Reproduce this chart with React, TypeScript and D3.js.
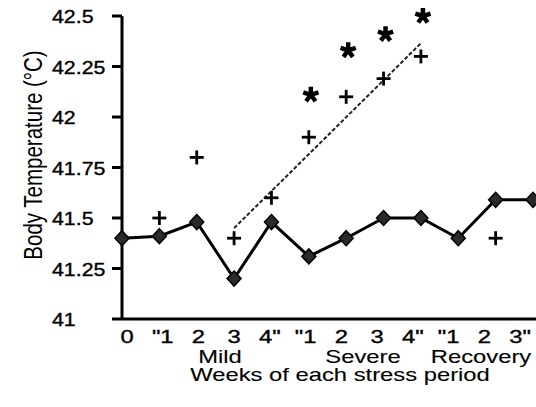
import React from "react";
import * as d3 from "d3";

const weekLabels = ["0", "\"1", "2", "3", "4\"", "\"1", "2", "3", "4\"", "\"1", "2", "3\""];
const meanTemp = [41.4, 41.41, 41.48, 41.2, 41.48, 41.31, 41.4, 41.5, 41.5, 41.4, 41.59, 41.59];
const plusWeeks = [1, 2, 3, 4, 5, 6, 7, 8, 10];
const plusTemp = [41.5, 41.8, 41.4, 41.6, 41.9, 42.1, 42.19, 42.3, 41.4];
const starWeeks = [5, 6, 7, 8];
const starTemp = [42.11, 42.33, 42.41, 42.5];
const trendWeeks = [3, 8];
const trendTemp = [41.45, 42.365];
const yTicks = [41, 41.25, 41.5, 41.75, 42, 42.25, 42.5];
const periods = ["Mild", "Severe", "Recovery"];
const periodCenters = [220, 363, 481];

const font = "'Liberation Sans', Arial, sans-serif";

const App = () => {
  const width = 536;
  const height = 407;
  const left = 122;
  const top = 16;
  const bottom = 319;

  const x = d3.scaleLinear().domain([0, 11]).range([left, 533]);
  const xLabel = d3.scaleLinear().domain([0, 11]).range([127, 520]);
  const y = d3.scaleLinear().domain([41, 42.5]).range([bottom, top]);

  const line = d3
    .line<number>()
    .x((d, i) => x(i))
    .y((d) => y(d));

  const trend = d3
    .line<number>()
    .x((d, i) => x(trendWeeks[i]))
    .y((d) => y(d));

  const diamond = "M0,-7.5L7,0L0,7.5L-7,0Z";
  const star = (cx: number, cy: number) => {
    const r = 8;
    return d3
      .range(5)
      .map((k) => {
        const a = (-90 + k * 72) * (Math.PI / 180);
        return `M${cx},${cy}L${cx + r * Math.cos(a)},${cy + r * Math.sin(a)}`;
      })
      .join("");
  };

  // the source picture is stretched sideways, so its text is too
  const label = (
    key: string | number,
    tx: number,
    ty: number,
    txt: string,
    anchor: string,
    sx: number,
    weight: number,
    dy?: string
  ) => (
    <text
      key={key}
      transform={`translate(${tx},${ty}) scale(${sx},1)`}
      dy={dy}
      textAnchor={anchor}
      fontSize={17.5}
      stroke="#000"
      strokeWidth={weight}
    >
      {txt}
    </text>
  );

  return (
    <svg
      width={width}
      height={height}
      style={{ position: "absolute", left: 0, top: 0, background: "#fff" }}
      fontFamily={font}
    >
      {/* axes */}
      <line x1={left} x2={left} y1={top} y2={bottom} stroke="#000" strokeWidth={3} />
      <line x1={left} x2={width} y1={bottom} y2={bottom} stroke="#000" strokeWidth={3} />
      {yTicks.map((t) => (
        <g key={t}>
          <line x1={left - 10} x2={left} y1={y(t)} y2={y(t)} stroke="#000" strokeWidth={3} />
          {label(t, 52, y(t) + 1, String(t), "start", 1.22, 0.35, "0.37em")}
        </g>
      ))}
      {weekLabels.map((l, i) => label(i, xLabel(i), 343, l, "middle", 1.36, 0.35))}
      {periods.map((p, i) => label(p, periodCenters[i], 363, p, "middle", 1.36, 0.1))}
      {label("title", 340, 381, "Weeks of each stress period", "middle", 1.36, 0.1)}
      <text
        transform={`translate(42,155) scale(1.25,1) rotate(-90)`}
        textAnchor="middle"
        fontSize={20.5}
      >
        Body Temperature (°C)
      </text>

      {/* trend */}
      <path d={trend(trendTemp) || ""} fill="none" stroke="#222" strokeWidth={2} strokeDasharray="4 2" />

      {/* mean line */}
      <path d={line(meanTemp) || ""} fill="none" stroke="#000" strokeWidth={3} />
      {meanTemp.map((d, i) => (
        <path
          key={i}
          d={diamond}
          transform={`translate(${x(i)},${y(d)})`}
          fill="#2a2a2a"
          stroke="#000"
          strokeWidth={1.5}
        />
      ))}

      {/* individual values */}
      {plusWeeks.map((w, i) => (
        <g key={w} transform={`translate(${x(w)},${y(plusTemp[i])})`} stroke="#000" strokeWidth={2.8}>
          <line x1={-7} x2={7} y1={0} y2={0} />
          <line x1={0} x2={0} y1={-7} y2={7} />
        </g>
      ))}

      {/* significance */}
      {starWeeks.map((w, i) => (
        <path
          key={w}
          d={star(x(w) + 2, y(starTemp[i]))}
          stroke="#000"
          strokeWidth={4.5}
          fill="none"
        />
      ))}
    </svg>
  );
};

export default App;
